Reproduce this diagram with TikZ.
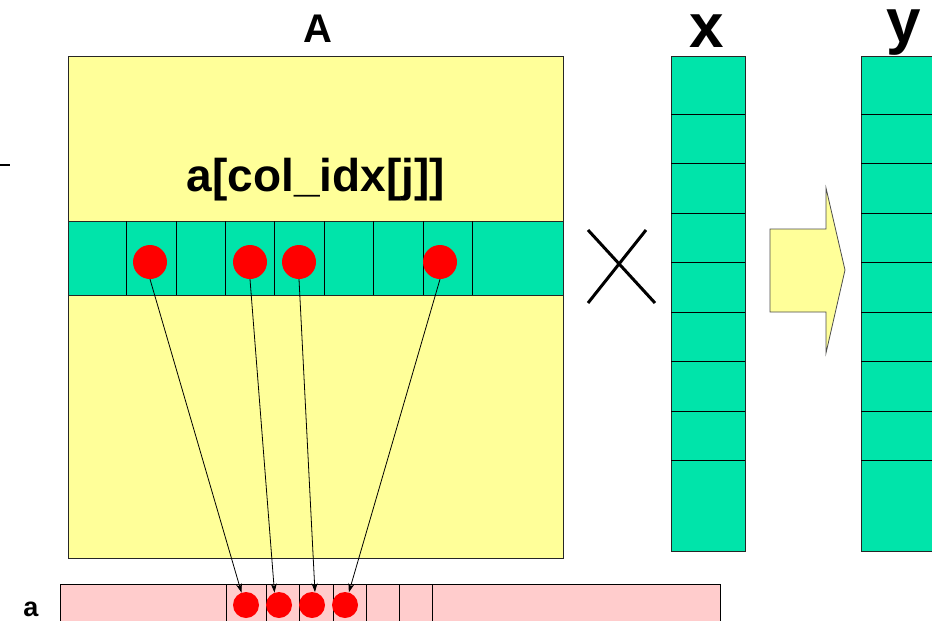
\documentclass[tikz,border=0pt]{standalone}
\usepackage{fontspec}
\setmainfont{Liberation Sans}
\usetikzlibrary{arrows.meta}
\definecolor{matyellow}{HTML}{FFFF99}
\definecolor{vecgreen}{HTML}{00E4AA}
\definecolor{rowpink}{HTML}{FFCCCC}
\begin{document}
\begin{tikzpicture}[x=1pt, y=-1pt,
  blk/.style={draw=black!85, line width=1pt},
  elem/.style={shape=circle, fill=red, inner sep=0pt},
  lbl/.style={anchor=base, font=\bfseries}]
\useasboundingbox (0,0) rectangle (932,621);
\clip (0,0) rectangle (932,621);

% matrix A with the highlighted row
\draw[blk, fill=matyellow] (68,56) rectangle (563,558);
\draw[blk, fill=vecgreen] (68,221) rectangle (563,295);
\draw[line width=0.8pt] (126,221) -- (126,295) (176,221) -- (176,295) (225,221) -- (225,295)
  (274,221) -- (274,295) (324,221) -- (324,295) (373,221) -- (373,295)
  (423,221) -- (423,295) (472,221) -- (472,295);

% vectors x and y
\draw[blk, fill=vecgreen] (671,56) rectangle (745,551);
\draw[blk, fill=vecgreen] (861,56) rectangle (945,551);
\draw[line width=0.8pt] (671,114) -- (745,114) (671,163) -- (745,163) (671,213) -- (745,213)
  (671,262) -- (745,262) (671,312) -- (745,312) (671,361) -- (745,361)
  (671,411) -- (745,411) (671,460) -- (745,460);
\draw[line width=0.8pt] (861,114) -- (945,114) (861,163) -- (945,163) (861,213) -- (945,213)
  (861,262) -- (945,262) (861,312) -- (945,312) (861,361) -- (945,361)
  (861,411) -- (945,411) (861,460) -- (945,460);

% times sign and result arrow
\draw[line width=3pt] (588,230) -- (655,303) (646,230) -- (588,303);
\draw[draw=black!70, line width=0.8pt, fill=matyellow] (770,229) -- (826,229) -- (826,188)
  -- (845,270) -- (826,353) -- (826,312) -- (770,312) -- cycle;
\draw[line width=2.5pt] (0,165) -- (10,165);

% value array a
\draw[line width=1pt, fill=rowpink] (60,584) rectangle (720,640);
\draw[line width=0.6pt] (226,584) -- (226,621) (266,584) -- (266,621) (299,584) -- (299,621)
  (333,584) -- (333,621) (366,584) -- (366,621) (399,584) -- (399,621) (432,584) -- (432,621);

% labels
\node[lbl, font=\bfseries\fontsize{40}{40}\selectfont] (tA) at (318,42) {A};
\node[lbl, inner sep=0pt, text height=33pt, font=\bfseries\fontsize{62}{62}\selectfont] (tx) at (707,47) {x};
\node[lbl, inner sep=0pt, text height=33pt, font=\bfseries\fontsize{62}{62}\selectfont] (ty) at (904,42) {y};
\node[lbl, font=\bfseries\fontsize{46}{46}\selectfont] (acol) at (316,191) {a[col\_idx[j]]};
\node[lbl, font=\bfseries\fontsize{27}{27}\selectfont] (ta) at (31,616) {a};

% nonzeros of the row and where they sit in a
\node[elem, minimum size=34pt] (t1) at (150,262) {};
\node[elem, minimum size=34pt] (t2) at (250,262) {};
\node[elem, minimum size=34pt] (t3) at (299,262) {};
\node[elem, minimum size=34pt] (t4) at (440,262) {};
\node[elem, minimum size=26pt] (b1) at (246,605) {};
\node[elem, minimum size=26pt] (b2) at (279,605) {};
\node[elem, minimum size=26pt] (b3) at (312,605) {};
\node[elem, minimum size=26pt] (b4) at (345,605) {};
\draw [-{Stealth[length=9pt,width=6pt]}, line width=0.8pt] (t1.south) -- (b1.110);
\draw [-{Stealth[length=9pt,width=6pt]}, line width=0.8pt] (t2.south) -- (b2.110);
\draw [-{Stealth[length=9pt,width=6pt]}, line width=0.8pt] (t3.south) -- (b3.77);
\draw [-{Stealth[length=9pt,width=6pt]}, line width=0.8pt] (t4.south) -- (b4.73);
\end{tikzpicture}
\end{document}
